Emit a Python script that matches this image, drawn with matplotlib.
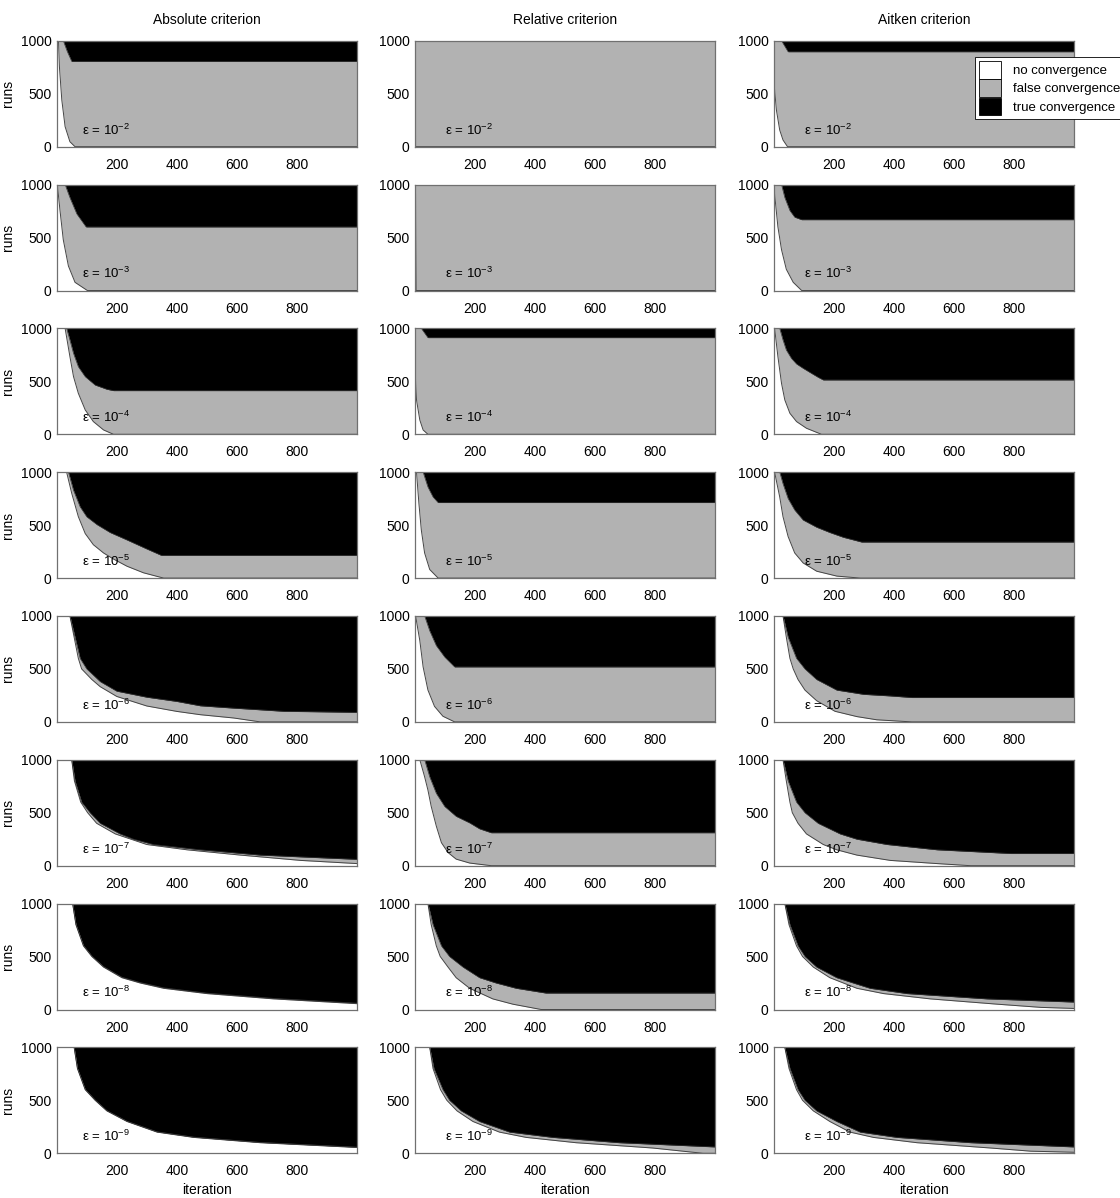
import matplotlib
matplotlib.use("Agg")
import matplotlib.pyplot as plt
from matplotlib.patches import Patch

plt.rcParams['font.family'] = ['Liberation Sans', 'DejaVu Sans']
plt.rcParams['mathtext.fontset'] = 'custom'
plt.rcParams['mathtext.rm'] = 'Liberation Sans'
plt.rcParams['mathtext.it'] = 'Liberation Sans:italic'

criteria = ['Absolute criterion', 'Relative criterion', 'Aitken criterion']
exponents = [-2, -3, -4, -5, -6, -7, -8, -9]
legend_labels = ['no convergence', 'false convergence', 'true convergence']

# each curve: (iterations, runs)
# "lo" = runs not yet converged, "up" = runs not converged + falsely converged

# absolute criterion
abs2_lo = ([1, 6, 9, 17, 28, 44, 61, 1000], [1000, 1000, 755, 440, 189, 47, 0, 0])
abs2_up = ([1, 22, 35, 50, 1000], [1000, 1000, 900, 805, 805])
abs3_lo = ([1, 2, 11, 22, 39, 61, 102, 1000], [1000, 1000, 754, 477, 231, 77, 0, 0])
abs3_up = ([1, 28, 44, 67, 98, 1000], [1000, 1000, 877, 723, 600, 600])
abs4_lo = ([1, 28, 44, 56, 72, 95, 122, 156, 189, 1000], [1000, 1000, 733, 544, 387, 230, 120, 41, 0, 0])
abs4_up = ([1, 33, 44, 56, 72, 95, 128, 167, 189, 1000], [1000, 1000, 890, 764, 638, 544, 465, 425, 412, 412])
abs5_lo = ([1, 33, 50, 72, 95, 122, 156, 189, 234, 289, 356, 1000], [1000, 1000, 800, 580, 420, 315, 237, 180, 112, 50, 0, 0])
abs5_up = ([1, 39, 56, 78, 100, 134, 178, 234, 300, 348, 1000], [1000, 1000, 829, 673, 579, 505, 430, 360, 275, 215, 215])
abs6_lo = ([1, 44, 58, 72, 83, 117, 145, 200, 300, 400, 478, 589, 678, 1000], [1000, 1000, 800, 600, 500, 400, 332, 240, 150, 99, 68, 37, 0, 0])
abs6_up = ([1, 44, 61, 78, 100, 145, 200, 300, 400, 478, 589, 756, 1000], [1000, 1000, 800, 600, 500, 380, 290, 233, 193, 152, 130, 100, 90])
abs7_lo = ([1, 50, 59, 80, 103, 133, 195, 300, 434, 612, 812, 1000], [1000, 1000, 800, 600, 500, 400, 300, 200, 150, 100, 50, 20])
abs7_up = ([1, 50, 61, 83, 111, 145, 211, 256, 322, 478, 678, 1000], [1000, 1000, 800, 600, 500, 400, 300, 250, 200, 150, 100, 60])
abs8_lo = ([1, 53, 64, 89, 117, 156, 217, 278, 356, 500, 723, 1000], [1000, 1000, 800, 600, 500, 400, 300, 250, 200, 150, 100, 55])
abs8_up = ([1, 53, 64, 89, 117, 156, 217, 278, 356, 500, 723, 1000], [1000, 1000, 805, 605, 505, 405, 305, 255, 205, 155, 105, 60])
abs9_lo = ([1, 58, 69, 95, 128, 167, 234, 334, 456, 678, 1000], [1000, 1000, 800, 600, 500, 400, 300, 200, 150, 100, 55])
abs9_up = ([1, 58, 69, 95, 128, 167, 234, 334, 456, 678, 1000], [1000, 1000, 803, 603, 503, 403, 303, 203, 153, 103, 58])

# relative criterion
rel2_lo = ([1, 3, 1000], [1000, 0, 0])
rel2_up = ([1, 1000], [1000, 1000])
rel3_lo = ([1, 3, 5, 1000], [1000, 900, 0, 0])
rel3_up = ([1, 1000], [1000, 1000])
rel4_lo = ([1, 2, 6, 17, 28, 44, 1000], [1000, 560, 324, 135, 41, 0, 0])
rel4_up = ([1, 22, 44, 1000], [1000, 1000, 912, 912])
rel5_lo = ([1, 6, 14, 22, 33, 50, 78, 1000], [1000, 1000, 704, 454, 237, 81, 0, 0])
rel5_up = ([1, 28, 44, 61, 78, 1000], [1000, 1000, 860, 766, 713, 713])
rel6_lo = ([1, 3, 17, 28, 44, 66, 94, 133, 1000], [1000, 1000, 767, 519, 301, 146, 53, 0, 0])
rel6_up = ([1, 33, 50, 72, 100, 133, 1000], [1000, 1000, 860, 720, 612, 519, 519])
rel7_lo = ([1, 17, 33, 44, 55, 72, 89, 111, 138, 183, 255, 1000], [1000, 1000, 839, 714, 559, 373, 217, 124, 62, 25, 0, 0])
rel7_up = ([1, 33, 50, 72, 100, 138, 183, 216, 255, 1000], [1000, 1000, 839, 683, 559, 466, 404, 348, 311, 311])
rel8_lo = ([1, 44, 55, 72, 85, 111, 138, 183, 260, 327, 421, 1000], [1000, 1000, 800, 600, 500, 400, 300, 200, 100, 50, 0, 0])
rel8_up = ([1, 44, 61, 89, 116, 161, 216, 271, 338, 437, 1000], [1000, 1000, 800, 600, 500, 400, 300, 250, 200, 155, 155])
rel9_lo = ([1, 50, 61, 86, 107, 141, 194, 282, 371, 537, 792, 960, 1000], [1000, 1000, 800, 600, 500, 400, 300, 200, 150, 100, 50, 0, 0])
rel9_up = ([1, 50, 64, 94, 116, 155, 216, 316, 460, 681, 1000], [1000, 1000, 800, 600, 500, 400, 300, 200, 150, 100, 60])

# aitken criterion
ait2_lo = ([1, 9, 20, 31, 46, 1000], [598, 346, 157, 63, 0, 0])
ait2_up = ([1, 26, 48, 1000], [1000, 1000, 896, 896])
ait3_lo = ([1, 3, 14, 26, 42, 65, 93, 1000], [1000, 908, 600, 385, 200, 77, 0, 0])
ait3_up = ([1, 26, 37, 54, 70, 93, 1000], [1000, 1000, 877, 754, 692, 668, 668])
ait4_lo = ([1, 3, 14, 26, 37, 54, 76, 109, 159, 1000], [1000, 1000, 733, 481, 324, 198, 120, 57, 0, 0])
ait4_up = ([1, 20, 31, 42, 59, 76, 98, 126, 148, 165, 1000], [1000, 1000, 890, 796, 717, 664, 623, 575, 538, 513, 513])
ait5_lo = ([1, 3, 20, 31, 48, 70, 98, 143, 210, 288, 1000], [1000, 1000, 766, 579, 392, 237, 143, 65, 19, 0, 0])
ait5_up = ([1, 20, 31, 48, 70, 98, 143, 187, 232, 293, 1000], [1000, 1000, 891, 751, 642, 548, 480, 430, 385, 340, 340])
ait6_lo = ([1, 31, 42, 54, 65, 81, 104, 143, 204, 277, 343, 460, 1000], [1000, 1000, 800, 600, 500, 400, 300, 200, 100, 50, 20, 0, 0])
ait6_up = ([1, 31, 48, 76, 104, 143, 210, 299, 388, 460, 1000], [1000, 1000, 800, 600, 500, 400, 300, 260, 245, 230, 230])
ait7_lo = ([1, 31, 42, 54, 62, 81, 109, 165, 210, 277, 388, 544, 656, 1000], [1000, 1000, 800, 600, 500, 400, 300, 200, 150, 100, 50, 20, 0, 0])
ait7_up = ([1, 31, 48, 76, 104, 148, 221, 277, 377, 544, 789, 1000], [1000, 1000, 800, 600, 500, 400, 300, 250, 200, 150, 115, 115])
ait8_lo = ([1, 37, 51, 76, 96, 132, 187, 277, 366, 522, 745, 890, 1000], [1000, 1000, 800, 600, 500, 400, 300, 200, 150, 100, 50, 20, 10])
ait8_up = ([1, 37, 54, 81, 104, 143, 210, 265, 321, 444, 711, 1000], [1000, 1000, 800, 600, 500, 400, 300, 250, 200, 150, 100, 70])
ait9_lo = ([1, 37, 51, 76, 96, 132, 187, 254, 332, 477, 722, 856, 1000], [1000, 1000, 800, 600, 500, 400, 300, 200, 150, 100, 50, 20, 10])
ait9_up = ([1, 37, 54, 81, 104, 143, 210, 288, 410, 656, 1000], [1000, 1000, 800, 600, 500, 400, 300, 200, 150, 100, 60])

columns = [
    [(abs2_lo, abs2_up), (abs3_lo, abs3_up), (abs4_lo, abs4_up), (abs5_lo, abs5_up),
     (abs6_lo, abs6_up), (abs7_lo, abs7_up), (abs8_lo, abs8_up), (abs9_lo, abs9_up)],
    [(rel2_lo, rel2_up), (rel3_lo, rel3_up), (rel4_lo, rel4_up), (rel5_lo, rel5_up),
     (rel6_lo, rel6_up), (rel7_lo, rel7_up), (rel8_lo, rel8_up), (rel9_lo, rel9_up)],
    [(ait2_lo, ait2_up), (ait3_lo, ait3_up), (ait4_lo, ait4_up), (ait5_lo, ait5_up),
     (ait6_lo, ait6_up), (ait7_lo, ait7_up), (ait8_lo, ait8_up), (ait9_lo, ait9_up)],
]

GRAY = '#b2b2b2'
W, H = 1120, 1198
fig = plt.figure(figsize=(W / 100, H / 100), dpi=100)

col_left = [57, 415, 774]
ax_w, ax_h = 300, 106
row_top0, row_step = 40.7, 143.8
eps_x = [85, 100, 100]

for c, panels in enumerate(columns):
    for r, (lo, up) in enumerate(panels):
        top = row_top0 + r * row_step
        ax = fig.add_axes([col_left[c] / W, 1 - (top + ax_h) / H, ax_w / W, ax_h / H])
        ax.fill_between(lo[0], lo[1], 1000, color=GRAY, lw=0)
        ax.fill_between(up[0], up[1], 1000, color='black', lw=0)
        ax.plot(lo[0], lo[1], color='#444444', lw=0.7)
        ax.plot(up[0], up[1], color='#333333', lw=0.5)
        ax.set_xlim(1, 1000)
        ax.set_ylim(0, 1000)
        ax.set_xticks([200, 400, 600, 800])
        ax.set_yticks([0, 500, 1000])
        ax.tick_params(length=0, labelsize=10, colors='black')
        ax.tick_params(axis='x', pad=8)
        ax.tick_params(axis='y', pad=4)
        for s in ax.spines.values():
            s.set_color('#707070')
            s.set_linewidth(0.9)
        ax.text(eps_x[c], 115, 'ε = 10$^{%d}$' % exponents[r],
                fontsize=9.5, va='baseline', ha='left')
        if c == 0:
            ax.set_ylabel('runs', fontsize=10, labelpad=4)
        if r == 0:
            ax.set_title(criteria[c], fontsize=10, pad=12)
        if r == len(panels) - 1:
            ax.set_xlabel('iteration', fontsize=10, labelpad=3)

handles = [Patch(facecolor='white', edgecolor='black', lw=0.6),
           Patch(facecolor=GRAY, edgecolor='black', lw=0.6),
           Patch(facecolor='black', edgecolor='black', lw=0.6)]
leg = fig.legend(handles, legend_labels, loc='upper left',
                 bbox_to_anchor=(975 / W, 1 - 57 / H), bbox_transform=fig.transFigure,
                 fontsize=9.5, fancybox=False, framealpha=1, edgecolor='black',
                 handlelength=1.65, handleheight=1.7, labelspacing=0.04,
                 borderpad=0.3, handletextpad=0.9, borderaxespad=0)
leg.get_frame().set_linewidth(0.6)

fig.savefig('out.png', dpi=100)
